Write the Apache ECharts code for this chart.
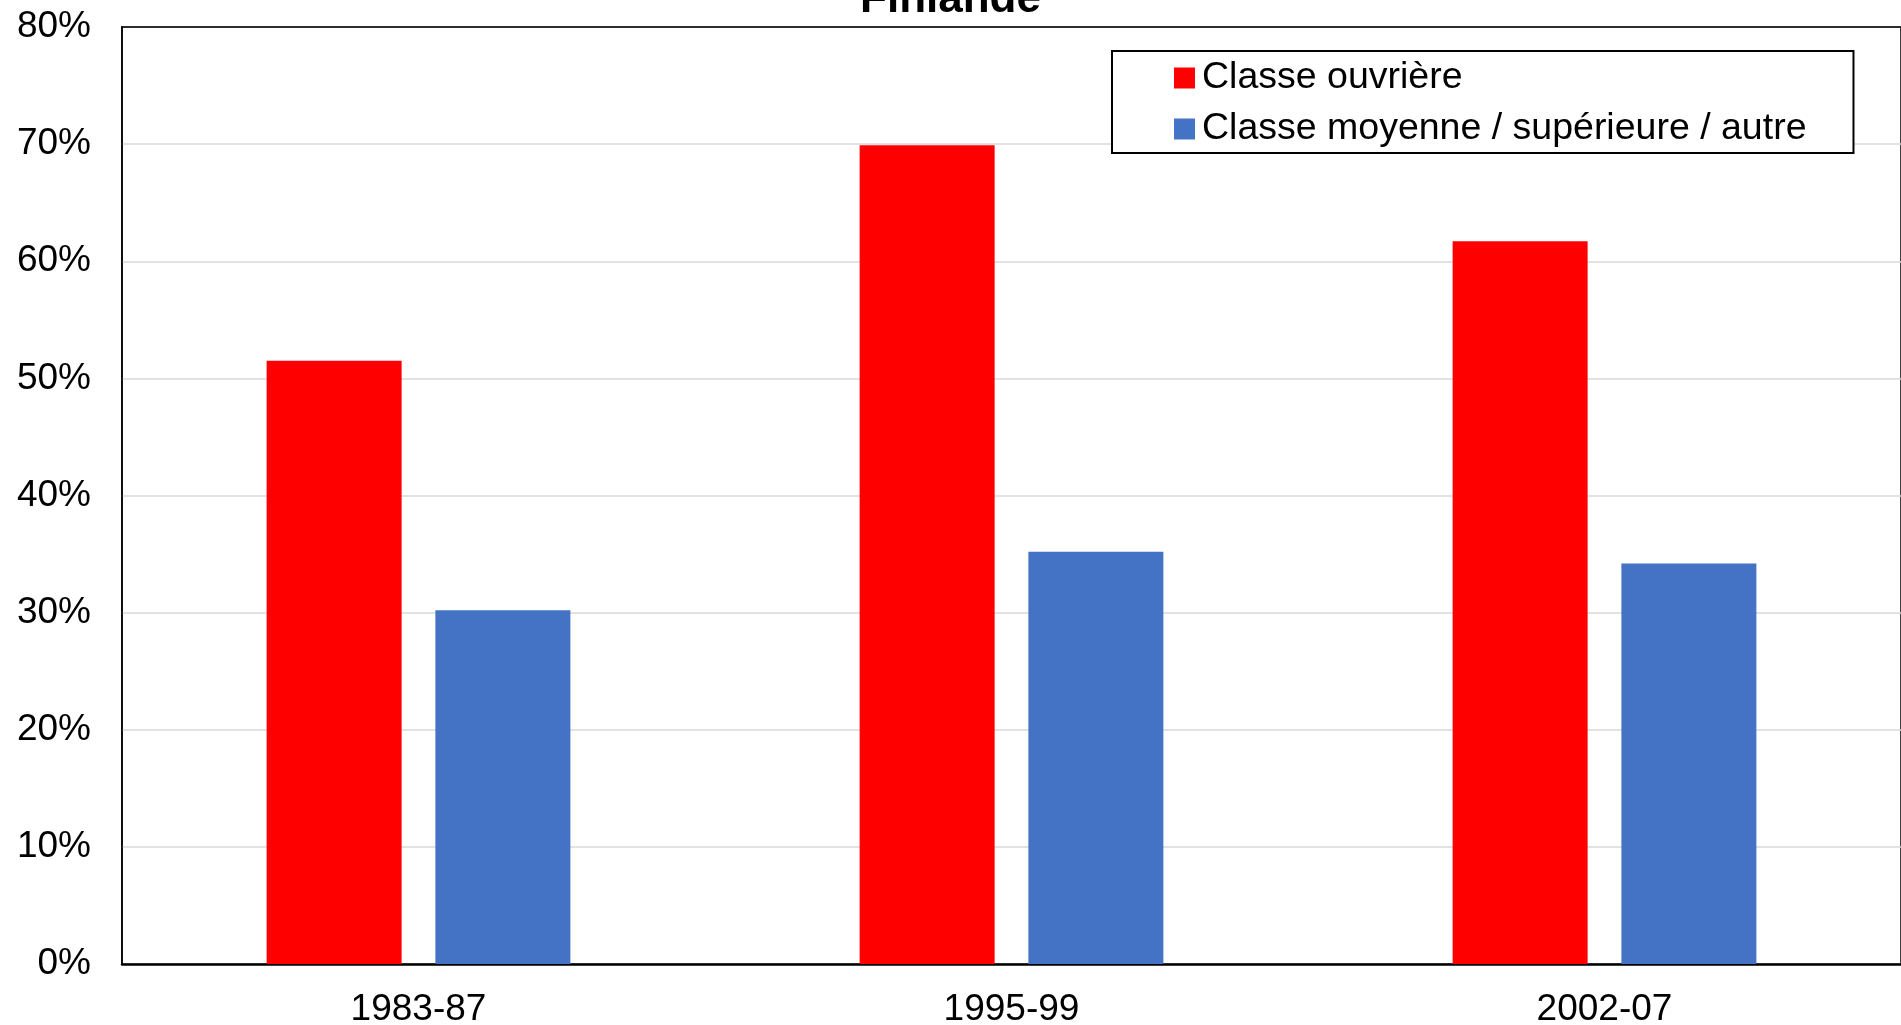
<!DOCTYPE html>
<html>
<head>
<meta charset="utf-8">
<script src="https://cdn.jsdelivr.net/npm/echarts@6/dist/echarts.min.js"></script>
<style>html,body{margin:0;padding:0;background:#fff}#c{width:1901px;height:1025px}</style>
</head>
<body>
<div id="c"></div>
<script>
const categories = ['1983-87', '1995-99', '2002-07'];
const seriesNames = ['Classe ouvrière', 'Classe moyenne / supérieure / autre'];
const ouvriere = [0.515, 0.699, 0.617];
const moyenne = [0.302, 0.352, 0.342];
const titleText = 'Finlande';

const FONT = '"Liberation Sans", Arial, sans-serif';
const chart = echarts.init(document.getElementById('c'), null, {renderer: 'canvas'});
chart.setOption({
  animation: false,
  backgroundColor: '#fff',
  title: {
    text: titleText, left: 'center', top: -22, padding: 0,
    textStyle: {fontFamily: FONT, fontSize: 44, fontWeight: 'bold', color: '#000'}
  },
  legend: {
    orient: 'vertical', left: 1112, top: 51,
    padding: [8, 47, 5, 62],
    itemWidth: 21, itemHeight: 21, itemGap: 13,
    borderColor: '#000', borderWidth: 2, backgroundColor: '#fff',
    icon: 'rect',
    textStyle: {fontFamily: FONT, fontSize: 37.5, color: '#000', padding: [0, 0, 0, 2]},
    data: seriesNames
  },
  grid: {
    left: 122, right: 0, top: 27, bottom: 61, containLabel: false,
    outerBoundsMode: 'none',
    show: true, borderColor: '#000', borderWidth: 1.5
  },
  xAxis: [{
    type: 'category', data: categories,
    axisLine: {show: true, lineStyle: {color: '#000', width: 2.5}},
    axisTick: {show: false},
    axisLabel: {fontFamily: FONT, fontSize: 37, color: '#000', margin: 27}
  }, {
    type: 'category', data: categories, position: 'top',
    axisLine: {show: true, lineStyle: {color: '#000', width: 1.5}},
    axisTick: {show: false}, axisLabel: {show: false}, splitLine: {show: false}
  }],
  yAxis: {
    type: 'value', min: 0, max: 0.8, interval: 0.1,
    axisLine: {show: true, lineStyle: {color: '#000', width: 1.5}},
    axisTick: {show: false},
    splitLine: {lineStyle: {color: '#d9d9d9', width: 1.5}},
    axisLabel: {
      fontFamily: FONT, fontSize: 37, color: '#000', margin: 31, padding: [4, 0, 0, 0],
      formatter: v => Math.round(v * 100) + '%'
    }
  },
  series: [
    {name: seriesNames[0], type: 'bar', data: ouvriere, barWidth: 135, barGap: '25%',
     itemStyle: {color: '#ff0000'}},
    {name: seriesNames[1], type: 'bar', data: moyenne, barWidth: 135, barGap: '25%',
     itemStyle: {color: '#4472c4'}}
  ]
});
</script>
</body>
</html>
